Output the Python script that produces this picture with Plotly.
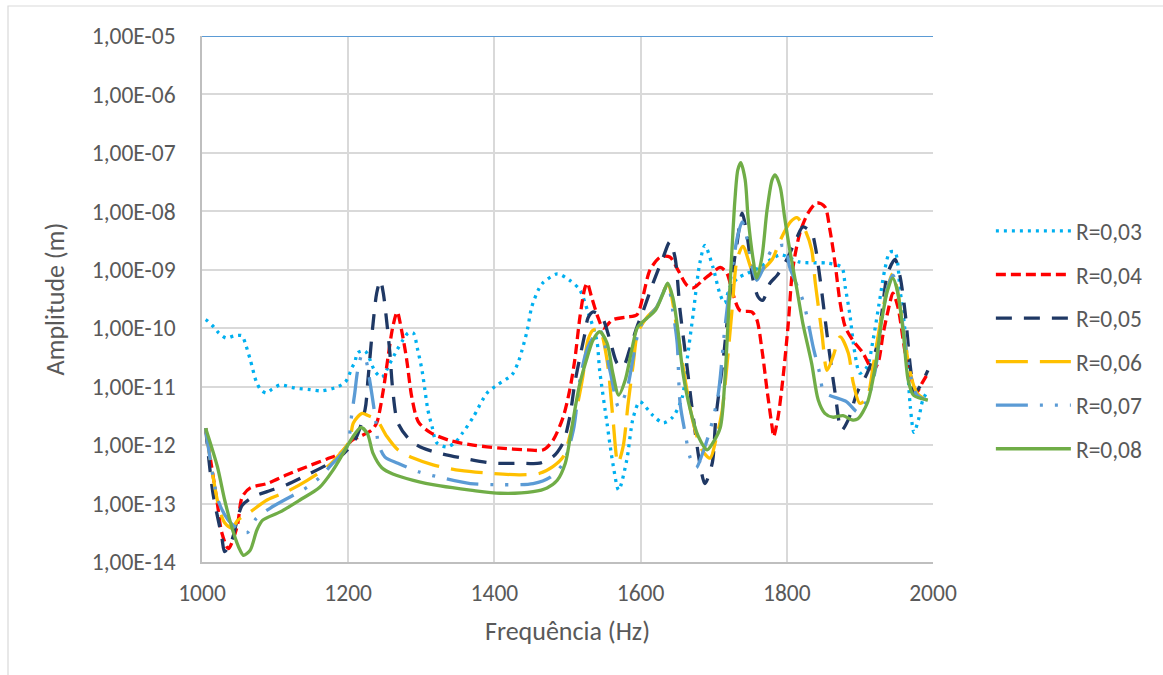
import plotly.graph_objects as go

# ---------------- data ----------------
freq_r03 = [1005, 1008, 1016, 1023, 1033, 1044, 1055, 1059, 1066, 1075, 1081, 1088, 1096, 1107, 1127, 1148, 1164,
            1186, 1196, 1200, 1205, 1209, 1213, 1223, 1237, 1246, 1257, 1267, 1275, 1282, 1289, 1295, 1301, 1305,
            1309, 1315, 1321, 1335, 1346, 1357, 1371, 1390, 1404, 1424, 1432, 1438, 1445, 1451, 1460, 1466, 1486,
            1503, 1517, 1528, 1540, 1544, 1554, 1562, 1570, 1581, 1590, 1599, 1617, 1631, 1644, 1657, 1663, 1672,
            1681, 1688, 1699, 1709, 1715, 1722, 1733, 1746, 1763, 1791, 1818, 1855, 1875, 1880, 1886, 1893, 1900,
            1910, 1918, 1927, 1934, 1941, 1948, 1955, 1962, 1969, 1974, 1980, 1986, 1992]
amp_r03 = [1.4e-10, 1.32e-10, 1.05e-10, 8.3e-11, 6.8e-11, 7.4e-11, 7.4e-11, 5.6e-11, 2.9e-11, 1.15e-11, 8.7e-12,
           7.8e-12, 9.1e-12, 1.07e-11, 9.5e-12, 8.9e-12, 8.5e-12, 1.0e-11, 1.2e-11, 1.45e-11, 2.1e-11, 2.6e-11,
           3.8e-11, 4.1e-11, 1.8e-11, 1.45e-11, 2.5e-11, 4.3e-11, 6.3e-11, 8.3e-11, 8.3e-11, 4.3e-11, 1.9e-11,
           8.7e-12, 4.0e-12, 2.0e-12, 1.1e-12, 9.3e-13, 1.1e-12, 1.65e-12, 3.0e-12, 7.8e-12, 1.07e-11, 1.6e-11,
           2.5e-11, 4.3e-11, 9.3e-11, 2.3e-10, 4.5e-10, 5.9e-10, 8.5e-10, 6.6e-10, 4.5e-10, 1.9e-10, 6.3e-11,
           1.9e-11, 2.4e-12, 4.9e-13, 1.7e-13, 5.5e-13, 3.0e-12, 5.5e-12, 3.2e-12, 2.4e-12, 3.0e-12, 6.6e-12,
           2.5e-11, 1.8e-10, 1.3e-9, 2.6e-9, 1.1e-9, 3.7e-10, 2.7e-10, 5.0e-10, 7.2e-10, 8.7e-10, 1.1e-9, 1.8e-9,
           1.35e-9, 1.3e-9, 1.1e-9, 5.0e-10, 1.8e-10, 3.8e-11, 1.7e-11, 2.2e-11, 6.3e-11, 3.0e-10, 1.0e-9, 2.0e-9,
           2.0e-9, 4.5e-10, 8.3e-11, 4.5e-12, 1.65e-12, 2.7e-12, 5.9e-12, 8.1e-12]

freq_r04 = [1005, 1021, 1027, 1036, 1048, 1055, 1066, 1089, 1116, 1144, 1171, 1189, 1205, 1216, 1232, 1239, 1248,
            1254, 1261, 1267, 1273, 1280, 1287, 1296, 1312, 1339, 1371, 1408, 1445, 1467, 1480, 1494, 1503, 1510,
            1517, 1524, 1527, 1533, 1542, 1549, 1562, 1581, 1595, 1603, 1613, 1627, 1640, 1651, 1663, 1672, 1685,
            1699, 1709, 1718, 1726, 1736, 1752, 1759, 1766, 1773, 1780, 1782, 1788, 1795, 1802, 1808, 1818, 1829,
            1841, 1852, 1859, 1866, 1873, 1880, 1890, 1904, 1918, 1925, 1932, 1941, 1945, 1952, 1962, 1971, 1978,
            1985, 1993]
amp_r04 = [1.95e-12, 1.0e-13, 3.2e-14, 1.7e-14, 4.0e-14, 1.3e-13, 1.85e-13, 2.2e-13, 3.1e-13, 4.3e-13, 5.8e-13,
           7.2e-13, 1.2e-12, 1.4e-12, 1.8e-12, 2.4e-12, 8.7e-12, 2.9e-11, 1.05e-10, 1.9e-10, 9.3e-11, 2.9e-11,
           6.6e-12, 2.5e-12, 1.65e-12, 1.2e-12, 1.0e-12, 8.9e-13, 8.3e-13, 8.3e-13, 1.2e-12, 3.0e-12, 8.7e-12,
           2.9e-11, 1.55e-10, 5.0e-10, 5.9e-10, 3.4e-10, 1.5e-10, 1.0e-10, 1.4e-10, 1.55e-10, 1.7e-10, 3.4e-10,
           1.0e-9, 1.65e-9, 1.65e-9, 1.0e-9, 5.5e-10, 4.9e-10, 6.6e-10, 9.1e-10, 1.1e-9, 8.7e-10, 4.0e-10,
           2.0e-10, 1.9e-10, 1.4e-10, 4.3e-11, 8.7e-12, 2.0e-12, 1.4e-12, 3.0e-12, 1.5e-11, 1.2e-10, 1.0e-9,
           4.3e-9, 9.3e-9, 1.4e-8, 1.2e-8, 4.8e-9, 1.3e-9, 2.7e-10, 1.05e-10, 6.3e-11, 3.8e-11, 1.9e-11, 2.6e-11,
           8.3e-11, 2.7e-10, 4.0e-10, 2.3e-10, 3.8e-11, 1.3e-11, 8.1e-12, 1.15e-11, 1.7e-11]

freq_r05 = [1005, 1015, 1027, 1031, 1041, 1048, 1055, 1070, 1089, 1116, 1144, 1171, 1189, 1209, 1223, 1227, 1234,
            1239, 1244, 1248, 1253, 1257, 1261, 1268, 1285, 1302, 1326, 1362, 1398, 1435, 1462, 1480, 1494, 1503,
            1510, 1517, 1524, 1528, 1535, 1547, 1558, 1568, 1576, 1585, 1595, 1603, 1617, 1631, 1640, 1647, 1654,
            1663, 1672, 1681, 1688, 1698, 1703, 1713, 1720, 1725, 1732, 1739, 1746, 1750, 1754, 1761, 1767, 1777,
            1787, 1800, 1814, 1822, 1834, 1839, 1846, 1856, 1866, 1875, 1884, 1896, 1910, 1923, 1930, 1938, 1948,
            1955, 1962, 1969, 1975, 1982, 1993]
amp_r05 = [1.95e-12, 1.5e-13, 2.7e-14, 1.5e-14, 2.4e-14, 5.2e-14, 9.3e-14, 1.3e-13, 1.6e-13, 2.1e-13, 3.1e-13,
           4.6e-13, 6.3e-13, 1.2e-12, 4.0e-12, 1.3e-11, 1.2e-10, 4.0e-10, 6.6e-10, 4.0e-10, 1.2e-10, 3.8e-11,
           8.7e-12, 2.4e-12, 1.2e-12, 8.9e-13, 7.2e-13, 5.8e-13, 4.9e-13, 4.9e-13, 4.9e-13, 6.3e-13, 1.1e-12,
           3.0e-12, 1.15e-11, 3.2e-11, 8.3e-11, 1.5e-10, 1.9e-10, 1.55e-10, 6.3e-11, 2.5e-11, 2.2e-11, 4.3e-11,
           1.05e-10, 1.9e-10, 5.9e-10, 1.65e-9, 3.0e-9, 1.65e-9, 2.0e-10, 2.5e-11, 3.0e-12, 4.9e-13, 2.2e-13,
           4.9e-13, 3.0e-12, 2.9e-11, 2.0e-10, 7.6e-10, 2.9e-9, 9.3e-9, 3.6e-9, 1.5e-9, 6.6e-10, 3.4e-10, 3.0e-10,
           5.9e-10, 8.1e-10, 1.5e-9, 3.6e-9, 5.4e-9, 4.3e-9, 2.5e-9, 6.3e-10, 6.3e-11, 7.9e-12, 1.8e-12, 2.7e-12,
           7.8e-12, 1.7e-11, 4.8e-11, 1.8e-10, 8.7e-10, 1.5e-9, 7.6e-10, 1.8e-10, 2.2e-11, 7.8e-12, 1.0e-11,
           1.9e-11]

freq_r06 = [1005, 1022, 1031, 1041, 1049, 1066, 1089, 1116, 1144, 1171, 1189, 1202, 1207, 1219, 1227, 1239, 1253,
            1268, 1289, 1316, 1353, 1394, 1435, 1462, 1480, 1494, 1503, 1513, 1521, 1528, 1535, 1544, 1554, 1562,
            1569, 1576, 1583, 1590, 1596, 1609, 1622, 1637, 1650, 1661, 1672, 1684, 1695, 1704, 1711, 1718, 1725,
            1732, 1740, 1752, 1759, 1767, 1780, 1791, 1805, 1814, 1825, 1834, 1839, 1848, 1855, 1863, 1873, 1884,
            1891, 1900, 1910, 1918, 1927, 1937, 1945, 1952, 1959, 1969, 1978, 1992]
amp_r06 = [1.95e-12, 1.0e-13, 4.7e-14, 3.8e-14, 5.2e-14, 7.2e-14, 1.15e-13, 1.6e-13, 2.5e-13, 4.2e-13, 7.2e-13,
           1.2e-12, 2.4e-12, 3.5e-12, 3.2e-12, 2.7e-12, 1.4e-12, 8.3e-13, 6.0e-13, 4.6e-13, 3.7e-13, 3.3e-13,
           3.1e-13, 3.3e-13, 4.3e-13, 6.3e-13, 1.4e-12, 4.5e-12, 1.5e-11, 6.3e-11, 9.3e-11, 9.3e-11, 2.9e-11,
           3.0e-12, 4.9e-13, 9.3e-13, 5.2e-12, 2.5e-11, 8.3e-11, 1.55e-10, 2.3e-10, 5.5e-10, 9.3e-11, 1.3e-11,
           2.4e-12, 8.3e-13, 6.0e-13, 1.4e-12, 3.5e-12, 2.2e-11, 2.0e-10, 1.5e-9, 2.5e-9, 1.0e-9, 7.6e-10, 1.0e-9,
           1.5e-9, 3.2e-9, 6.6e-9, 7.8e-9, 4.8e-9, 2.2e-9, 5.9e-10, 8.3e-11, 1.9e-11, 3.2e-11, 7.1e-11, 3.8e-11,
           1.15e-11, 5.2e-12, 6.6e-12, 2.2e-11, 1.05e-10, 4.5e-10, 8.7e-10, 4.0e-10, 1.05e-10, 1.7e-11, 7.8e-12,
           5.9e-12]

freq_r07 = [1005, 1022, 1036, 1052, 1062, 1074, 1093, 1123, 1144, 1161, 1179, 1198, 1205, 1209, 1213, 1219, 1224,
            1230, 1238, 1241, 1250, 1268, 1296, 1326, 1367, 1408, 1453, 1476, 1494, 1508, 1517, 1528, 1544, 1558,
            1570, 1581, 1590, 1599, 1609, 1622, 1637, 1644, 1650, 1654, 1661, 1668, 1676, 1684, 1695, 1706, 1715,
            1725, 1733, 1739, 1746, 1752, 1759, 1767, 1780, 1797, 1804, 1822, 1828, 1836, 1845, 1851, 1882, 1897,
            1910, 1921, 1930, 1938, 1945, 1952, 1959, 1969, 1978, 1992]
amp_r07 = [1.95e-12, 1.15e-13, 5.2e-14, 3.5e-14, 3.2e-14, 5.5e-14, 8.3e-14, 1.35e-13, 1.9e-13, 2.8e-13, 4.9e-13,
           9.3e-13, 3.5e-12, 7.8e-12, 1.9e-11, 3.5e-11, 2.9e-11, 1.15e-11, 2.4e-12, 1.1e-12, 6.3e-13, 4.9e-13,
           3.5e-13, 2.8e-13, 2.2e-13, 2.1e-13, 2.2e-13, 2.8e-13, 4.9e-13, 1.8e-12, 1.3e-11, 4.8e-11, 9.3e-11,
           1.9e-11, 4.5e-12, 8.7e-12, 3.2e-11, 1.05e-10, 1.5e-10, 2.3e-10, 5.5e-10, 2.0e-10, 5.6e-11, 5.2e-12,
           1.6e-12, 6.0e-13, 4.1e-13, 6.8e-13, 1.8e-12, 7.2e-12, 9.3e-11, 1.0e-9, 3.9e-9, 6.6e-9, 3.2e-9, 1.2e-9,
           6.6e-10, 1.0e-9, 2.2e-9, 2.6e-9, 1.1e-9, 3.0e-10, 1.5e-10, 4.8e-11, 1.7e-11, 8.1e-12, 5.5e-12, 3.7e-12,
           5.9e-12, 1.9e-11, 1.4e-10, 5.0e-10, 8.1e-10, 4.5e-10, 1.05e-10, 1.6e-11, 7.2e-12, 5.9e-12]

freq_r08 = [1005, 1021, 1031, 1042, 1052, 1057, 1066, 1075, 1083, 1107, 1134, 1161, 1179, 1193, 1205, 1217, 1226,
            1234, 1246, 1261, 1289, 1326, 1367, 1408, 1453, 1472, 1486, 1497, 1503, 1510, 1517, 1527, 1535, 1544,
            1554, 1562, 1570, 1579, 1588, 1596, 1609, 1620, 1631, 1637, 1644, 1651, 1658, 1668, 1679, 1691, 1699,
            1709, 1715, 1720, 1725, 1729, 1733, 1737, 1743, 1747, 1754, 1759, 1766, 1773, 1780, 1784, 1791, 1797,
            1804, 1814, 1822, 1834, 1843, 1852, 1863, 1877, 1889, 1897, 1910, 1921, 1930, 1938, 1945, 1951, 1959,
            1966, 1973, 1985, 1993]
amp_r08 = [1.95e-12, 4.3e-13, 1.15e-13, 3.5e-14, 1.6e-14, 1.3e-14, 1.6e-14, 3.5e-14, 5.2e-14, 7.2e-14, 1.15e-13,
           1.9e-13, 3.7e-13, 7.2e-13, 1.3e-12, 2.0e-12, 1.6e-12, 7.2e-13, 4.1e-13, 3.2e-13, 2.5e-13, 2.0e-13,
           1.7e-13, 1.5e-13, 1.6e-13, 1.85e-13, 2.5e-13, 4.9e-13, 1.2e-12, 4.0e-12, 1.15e-11, 3.2e-11, 6.3e-11,
           8.7e-11, 5.6e-11, 1.7e-11, 7.2e-12, 1.3e-11, 4.3e-11, 1.05e-10, 1.5e-10, 2.0e-10, 4.0e-10, 5.9e-10,
           3.4e-10, 9.3e-11, 1.7e-11, 4.0e-12, 1.4e-12, 8.3e-13, 1.1e-12, 2.0e-12, 1.15e-11, 1.55e-10, 2.2e-9,
           1.55e-8, 5.1e-8, 6.8e-8, 3.5e-8, 7.9e-9, 1.5e-9, 7.2e-10, 1.65e-9, 1.05e-8, 3.5e-8, 4.2e-8, 2.6e-8,
           7.9e-9, 2.2e-9, 4.5e-10, 1.2e-10, 2.5e-11, 5.9e-12, 3.5e-12, 3.0e-12, 3.2e-12, 2.7e-12, 2.8e-12,
           5.2e-12, 2.2e-11, 1.4e-10, 4.5e-10, 7.2e-10, 4.5e-10, 9.3e-11, 1.3e-11, 7.2e-12, 6.2e-12, 5.9e-12]

top_freq = [1000, 2000]
top_amp = [1e-5, 1e-5]

series_names = ["R=0,03", "R=0,04", "R=0,05", "R=0,06", "R=0,07", "R=0,08"]
y_tick_vals = [1e-14, 1e-13, 1e-12, 1e-11, 1e-10, 1e-9, 1e-8, 1e-7, 1e-6, 1e-5]
y_tick_text = ["1,00E-14", "1,00E-13", "1,00E-12", "1,00E-11", "1,00E-10",
               "1,00E-09", "1,00E-08", "1,00E-07", "1,00E-06", "1,00E-05"]
x_tick_vals = [1000, 1200, 1400, 1600, 1800, 2000]

# ---------------- styling ----------------
series = [
    (freq_r03, amp_r03, "#00B0F0", "3px,5px"),
    (freq_r04, amp_r04, "#FF0000", "10px,5px"),
    (freq_r05, amp_r05, "#1F3864", "16px,12px"),
    (freq_r06, amp_r06, "#FFC000", "32px,12px"),
    (freq_r07, amp_r07, "#5B9BD5", "32px,12px,3px,12px,3px,12px"),
    (freq_r08, amp_r08, "#70AD47", "solid"),
]

FONT = "Carlito, Lato, 'Liberation Sans', sans-serif"
TXT = "#595959"

fig = go.Figure()
fig.add_trace(go.Scatter(x=top_freq, y=top_amp, mode="lines", showlegend=False,
                         line=dict(color="#5B9BD5", width=2), hoverinfo="skip"))

for (fx, fy, col, dash), name in zip(series, series_names):
    fig.add_trace(go.Scatter(
        x=fx, y=fy, name=name, mode="lines", legendgroup=name,
        line=dict(color=col, width=3.3, dash=dash, shape="spline", smoothing=0.8),
    ))

fig.update_layout(
    width=1163, height=675,
    margin=dict(l=202, r=230, t=36, b=113),
    paper_bgcolor="white", plot_bgcolor="white",
    font=dict(family=FONT, color=TXT, size=23),
    showlegend=True,
    legend=dict(
        xref="container", yref="container",
        x=0.852, y=0.496, xanchor="left", yanchor="middle",
        font=dict(size=23.5, color=TXT, family=FONT),
        itemwidth=75, tracegroupgap=10, traceorder="grouped",
        bgcolor="rgba(0,0,0,0)",
    ),
    xaxis=dict(
        range=[1000, 2000], tickvals=x_tick_vals, ticks="",
        showgrid=True, gridcolor="#D9D9D9", gridwidth=1.5,
        showline=True, linecolor="#BFBFBF", linewidth=1.5,
        zeroline=False, tickfont=dict(size=23.5, color=TXT),
        ticklabelstandoff=9,
        title=dict(text="Frequência (Hz)", font=dict(size=26, color=TXT), standoff=16),
    ),
    yaxis=dict(
        type="log", range=[-14, -5], tickvals=y_tick_vals, ticktext=y_tick_text, ticks="",
        showgrid=True, gridcolor="#D9D9D9", gridwidth=1.5,
        showline=True, linecolor="#BFBFBF", linewidth=1.5,
        zeroline=False, tickfont=dict(size=23.5, color=TXT),
        ticklabelstandoff=20,
        title=dict(text="Amplitude (m)", font=dict(size=26, color=TXT), standoff=20),
    ),
    shapes=[dict(type="rect", xref="paper", yref="paper",
                 x0=(8 - 202) / 731, x1=(1175 - 202) / 731,
                 y0=(562 - 690) / 526, y1=(562 - 6) / 526,
                 line=dict(color="#D9D9D9", width=1.2), fillcolor="rgba(0,0,0,0)", layer="below")],
)

fig.write_html("out.html")
